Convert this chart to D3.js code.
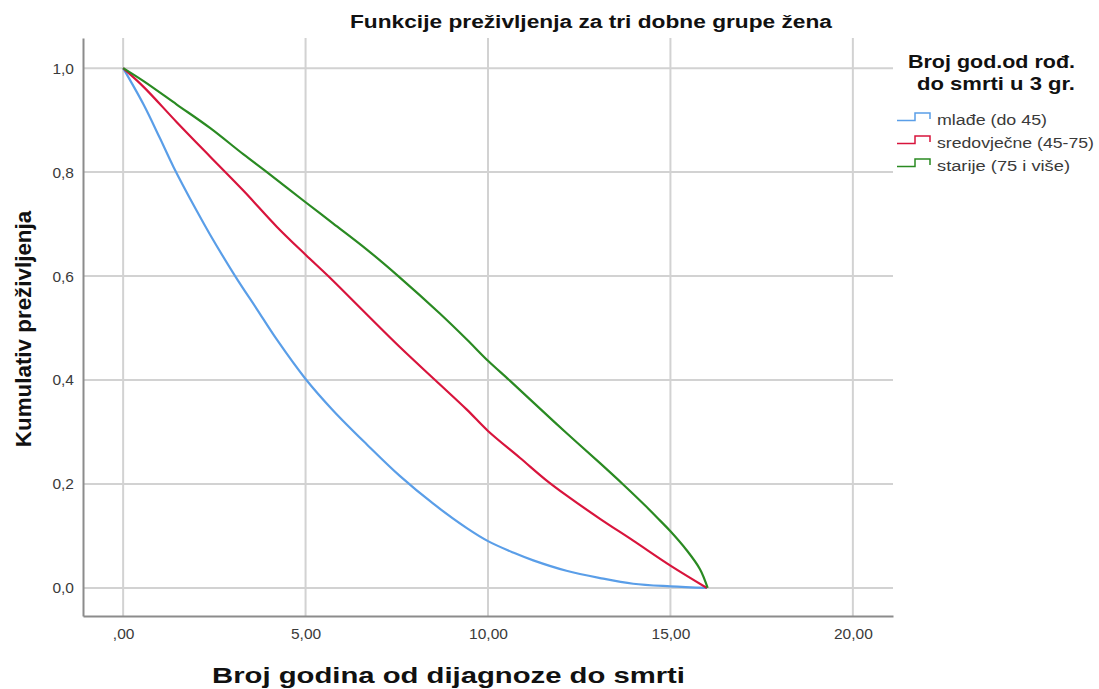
<!DOCTYPE html>
<html>
<head>
<meta charset="utf-8">
<script src="https://cdn.jsdelivr.net/npm/d3@7"></script>
<style>
    body { margin: 0; background: #fff; }
    text { font-family: "Liberation Sans", Arial, sans-serif; }
</style>
</head>
<body>
<script>
// survival curves (years, cumulative survival)
var groups = ['mlađe (do 45)', 'sredovječne (45-75)', 'starije (75 i više)'];
var colors = ['#5a9ee8', '#d8143c', '#2a8a22'];

var youngT = [0, 0.56, 1.01, 1.38, 2.02, 2.38, 3.07, 3.66, 4.21, 5.0, 5.76, 6.68, 7.59, 8.5, 9.42, 10.0, 10.69, 11.24, 12.15, 13.07, 13.98, 15.0, 16.0];
var youngS = [1, 0.93, 0.865, 0.81, 0.725, 0.68, 0.60, 0.537, 0.478, 0.402, 0.341, 0.276, 0.215, 0.162, 0.115, 0.09, 0.068, 0.053, 0.033, 0.019, 0.008, 0.003, 0];

var middleT = [0, 0.56, 1.47, 2.38, 3.30, 4.21, 5.0, 5.62, 6.68, 7.59, 8.55, 9.42, 10.0, 10.88, 11.6, 12.15, 13.07, 13.98, 15.0, 16.0];
var middleS = [1, 0.964, 0.896, 0.83, 0.764, 0.695, 0.641, 0.60, 0.526, 0.463, 0.40, 0.343, 0.302, 0.25, 0.207, 0.178, 0.133, 0.091, 0.043, 0];

var olderT = [0, 0.56, 1.47, 2.38, 3.30, 3.94, 5.0, 5.76, 6.68, 7.54, 8.68, 9.42, 10.0, 10.58, 11.24, 12.15, 13.07, 13.69, 14.3, 14.71, 15.0, 15.44, 15.81, 16.02];
var olderS = [1, 0.975, 0.93, 0.885, 0.834, 0.80, 0.742, 0.701, 0.651, 0.60, 0.528, 0.478, 0.437, 0.40, 0.357, 0.298, 0.24, 0.20, 0.159, 0.13, 0.109, 0.073, 0.036, 0];

var xTicks = [0, 5, 10, 15, 20];
var xTickLabels = [',00', '5,00', '10,00', '15,00', '20,00'];
var yTicks = [0, 0.2, 0.4, 0.6, 0.8, 1.0];
var yTickLabels = ['0,0', '0,2', '0,4', '0,6', '0,8', '1,0'];

var series = [
    {name: groups[0], t: youngT, s: youngS},
    {name: groups[1], t: middleT, s: middleS},
    {name: groups[2], t: olderT, s: olderS}
];

var width = 1099, height = 689;
var plot = {left: 83, right: 893, top: 38, bottom: 616};

var svg = d3.select('body').append('svg')
    .attr('width', width)
    .attr('height', height);

var x = d3.scaleLinear().domain([-1.1, 21.1]).range([plot.left, plot.right]);
var y = d3.scaleLinear().domain([-0.054, 1.058]).range([plot.bottom, plot.top]);

// grid
var grid = svg.append('g').attr('class', 'grid');

grid.selectAll('line.h')
    .data(yTicks)
    .enter().append('line')
    .attr('class', 'h')
    .attr('x1', plot.left).attr('x2', plot.right)
    .attr('y1', function (d) { return y(d); })
    .attr('y2', function (d) { return y(d); })
    .attr('stroke', '#d2d2d2')
    .attr('stroke-width', 2);

grid.selectAll('line.v')
    .data(xTicks)
    .enter().append('line')
    .attr('class', 'v')
    .attr('y1', plot.top).attr('y2', plot.bottom)
    .attr('x1', function (d) { return x(d); })
    .attr('x2', function (d) { return x(d); })
    .attr('stroke', '#d2d2d2')
    .attr('stroke-width', 2);

// axes
var xAxis = d3.axisBottom(x)
    .tickValues(xTicks)
    .tickSize(0)
    .tickPadding(12)
    .tickFormat(function (d, i) { return xTickLabels[i]; });

var yAxis = d3.axisLeft(y)
    .tickValues(yTicks)
    .tickSize(0)
    .tickPadding(9)
    .tickFormat(function (d, i) { return yTickLabels[i]; });

var gx = svg.append('g')
    .attr('transform', 'translate(0,' + plot.bottom + ')')
    .call(xAxis);

var gy = svg.append('g')
    .attr('transform', 'translate(' + plot.left + ',0)')
    .call(yAxis);

[gx, gy].forEach(function (g) {
    g.select('.domain').attr('stroke', '#8c8c8c').attr('stroke-width', 2);
    g.selectAll('text')
        .attr('fill', '#3a3a3a')
        .style('font-size', '15.5px')
        .style('font-family', '"Liberation Sans", Arial, sans-serif');
});

// curves
var line = d3.line()
    .x(function (d) { return x(d[0]); })
    .y(function (d) { return y(d[1]); })
    .curve(d3.curveCatmullRom.alpha(0.5));

series.forEach(function (ser, i) {
    var pts = ser.t.map(function (t, j) { return [t, ser.s[j]]; });
    svg.append('path')
        .datum(pts)
        .attr('fill', 'none')
        .attr('stroke', colors[i])
        .attr('stroke-width', 2.2)
        .attr('stroke-linejoin', 'round')
        .attr('d', line);
});

// titles (text is wider in the picture than the font alone gives, so stretch to the read width)
function stretched(sel, len) {
    return sel.attr('textLength', len).attr('lengthAdjust', 'spacingAndGlyphs');
}

stretched(svg.append('text')
    .attr('x', 591).attr('y', 28)
    .attr('text-anchor', 'middle')
    .style('font-size', '18px')
    .style('font-weight', 'bold')
    .attr('fill', '#111')
    .text('Funkcije preživljenja za tri dobne grupe žena'), 482);

stretched(svg.append('text')
    .attr('x', 448.5).attr('y', 683)
    .attr('text-anchor', 'middle')
    .style('font-size', '22px')
    .style('font-weight', 'bold')
    .attr('fill', '#111')
    .text('Broj godina od dijagnoze do smrti'), 473);

svg.append('text')
    .attr('transform', 'translate(31,329) rotate(-90)')
    .attr('text-anchor', 'middle')
    .style('font-size', '22.4px')
    .style('font-weight', 'bold')
    .attr('fill', '#111')
    .text('Kumulativ preživljenja');

// legend
var legend = svg.append('g').attr('class', 'legend');

stretched(legend.append('text')
    .attr('x', 991.5).attr('y', 68)
    .attr('text-anchor', 'middle')
    .style('font-size', '19px')
    .style('font-weight', 'bold')
    .attr('fill', '#111')
    .text('Broj god.od rođ.'), 167);

stretched(legend.append('text')
    .attr('x', 996).attr('y', 90)
    .attr('text-anchor', 'middle')
    .style('font-size', '19px')
    .style('font-weight', 'bold')
    .attr('fill', '#111')
    .text('do smrti u 3 gr.'), 158);

var itemWidths = [110, 157, 133];

var items = legend.selectAll('g.item')
    .data(groups)
    .enter().append('g')
    .attr('class', 'item')
    .attr('transform', function (d, i) { return 'translate(0,' + (119 + i * 23) + ')'; });

items.append('path')
    .attr('fill', 'none')
    .attr('stroke', function (d, i) { return colors[i]; })
    .attr('stroke-width', 1.5)
    .attr('d', 'M897,1.5 H915 V-6 H930 V0');

items.append('text')
    .attr('x', 937).attr('y', 5.5)
    .style('font-size', '15.5px')
    .attr('fill', '#3a3a3a')
    .attr('textLength', function (d, i) { return itemWidths[i]; })
    .attr('lengthAdjust', 'spacingAndGlyphs')
    .text(function (d) { return d; });
</script>
</body>
</html>
